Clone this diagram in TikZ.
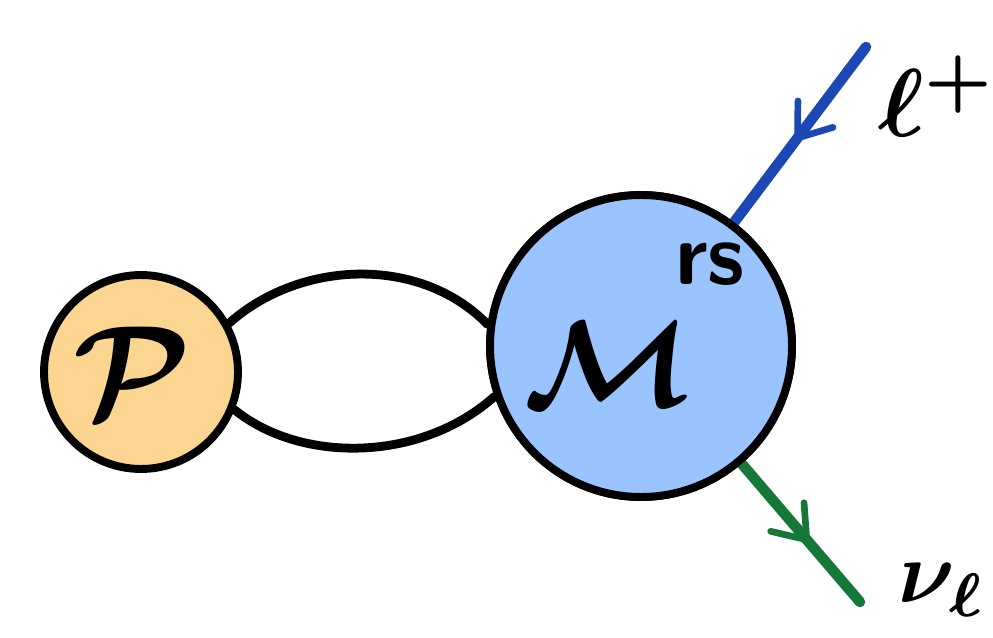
\documentclass[tikz,border=0pt]{standalone}
\usepackage{amsmath}
\usetikzlibrary{decorations.markings}
\definecolor{porange}{HTML}{FCD691}
\definecolor{mblue}{HTML}{99C4FF}
\definecolor{lblue}{HTML}{1C48B6}
\definecolor{lgreen}{HTML}{167838}
\tikzset{
  blob/.style={circle, draw=black, line width=4.5pt, inner sep=0pt},
  prop/.style={line width=5pt, line cap=round},
  leparrow/.style={decoration={markings, mark=at position #1 with {\draw[line width=3.8pt, line cap=round, line join=round] (-17pt,12.5pt) -- (0pt,0pt) -- (-17pt,-12.5pt);}},
    postaction={decorate}},
  lepline/.style={line width=6pt, line cap=round},
  lbl/.style={inner sep=0pt}
}
\begin{document}
\begin{tikzpicture}[x=0.02cm,y=-0.02cm]
\useasboundingbox (0,0) rectangle (993,638);
% leptons (drawn first, behind the blob)
\coordinate (ltop) at (866,47);
\coordinate (nend) at (860,602);
\node[blob, fill=mblue, minimum size=6.04cm] (M) at (641,346) {};
\draw[lepline, leparrow=0.52, draw=lblue] (ltop) -- (M);
\draw[lepline, leparrow=0.55, draw=lgreen] (M) -- (nend);
\node[blob, fill=mblue, minimum size=6.04cm] (M2) at (641,346) {};
\node[lbl] (Mtxt) at (608,364) {\scalebox{7}{$\boldsymbol{\mathcal{M}}$}};
\node[lbl] (rstxt) at (710,264) {\scalebox{5}{\textsf{\textbf{rs}}}};
\node[blob, fill=porange, minimum size=3.88cm] (P) at (141,372) {};
\node[lbl] (Ptxt) at (132,372) {\scalebox{7.5}{$\boldsymbol{\mathcal{P}}$}};
% two propagators
\draw[prop] (P.29) .. controls (300,260) and (420,255) .. (M2.172);
\draw[prop] (P.-22) .. controls (300,463) and (420,463) .. (M2.-161);
% labels
\node[lbl, anchor=west] (lplus) at (878,96) {\scalebox{5.5}{$\boldsymbol{\ell^{+}}$}};
\node[lbl, anchor=west] (nul) at (898,590) {\scalebox{5}{$\boldsymbol{\nu_{\ell}}$}};
\end{tikzpicture}
\end{document}
